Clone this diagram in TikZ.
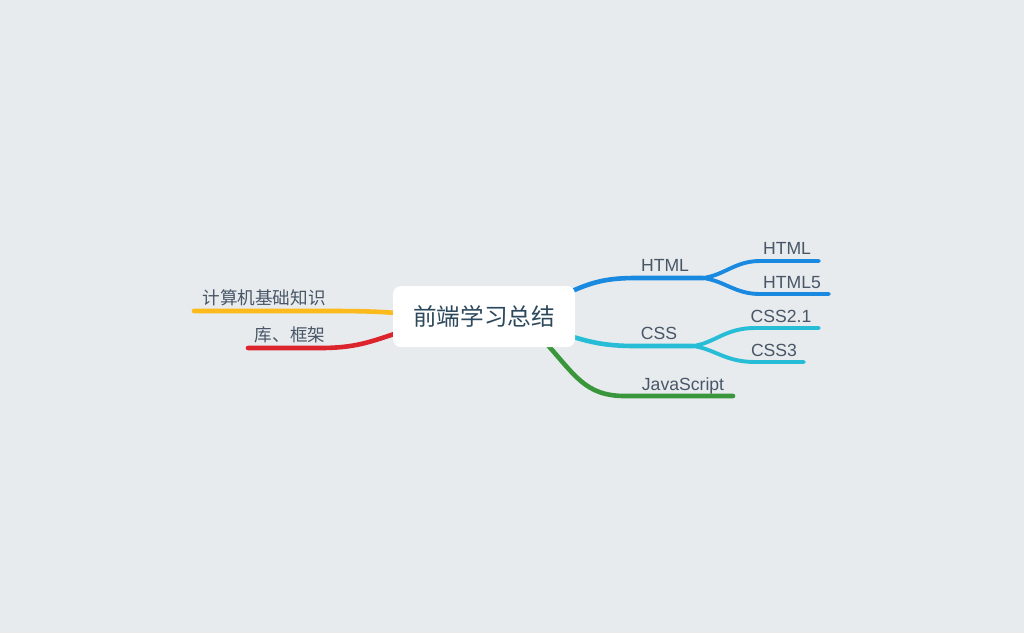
\documentclass[tikz,border=0pt]{standalone}
\usepackage{fontspec}
\setmainfont{Liberation Sans}
\newfontfamily\cjk{Noto Sans CJK SC}
\definecolor{bg}{RGB}{231,235,238}
\definecolor{cblue}{RGB}{26,137,224}
\definecolor{ccyan}{RGB}{40,189,214}
\definecolor{cgreen}{RGB}{58,150,58}
\definecolor{cred}{RGB}{219,36,44}
\definecolor{cyellow}{RGB}{252,186,28}
\definecolor{ctext}{RGB}{72,86,102}
\definecolor{ctitle}{RGB}{44,72,92}
\begin{document}
\begin{tikzpicture}[x=1pt,y=-1pt,
  branch/.style={line width=4.6pt,line cap=round},
  sub/.style={line width=3.9pt,line cap=round},
  lbl/.style={text=ctext,font=\fontsize{17.6}{18}\selectfont,inner sep=0pt,anchor=base},
  cjklbl/.style={text=ctext,font=\cjk\fontsize{17.6}{18}\selectfont,inner sep=0pt,anchor=base},
  rootbox/.style={fill=white,rounded corners=8pt,minimum width=182pt,minimum height=61pt,inner sep=0pt,text=ctitle,font=\cjk\fontsize{23.6}{24}\selectfont}]
\fill[bg] (0,0) rectangle (1024,633);
\useasboundingbox (0,0) rectangle (1024,633);

% coordinates
\coordinate (yEnd) at (194,311);
\coordinate (rEnd) at (248,348);
\coordinate (hFork) at (703,278);
\coordinate (hA) at (819,261);
\coordinate (hB) at (829,294);
\coordinate (cFork) at (693,346);
\coordinate (cA) at (819,328);
\coordinate (cB) at (804,362);
\coordinate (jEnd) at (733,396);

% left branches
\draw[branch,cyellow] (397,313) .. controls (370,311) and (350,311) .. (320,311) -- (yEnd);
\draw[branch,cred] (397,333) .. controls (370,342) and (355,348) .. (320,348) -- (rEnd);
% right branches
\draw[branch,cblue] (570,292) .. controls (590,283) and (605,278) .. (635,278) -- (hFork);
\draw[sub,cblue] (hFork) .. controls (725,275) and (735,261) .. (760,261) -- (hA);
\draw[sub,cblue] (hFork) .. controls (725,281) and (735,294) .. (760,294) -- (hB);
\draw[branch,ccyan] (570,336) .. controls (590,342) and (605,346) .. (635,346) -- (cFork);
\draw[sub,ccyan] (cFork) .. controls (715,343) and (725,328) .. (755,328) -- (cA);
\draw[sub,ccyan] (cFork) .. controls (715,349) and (725,362) .. (755,362) -- (cB);
\draw[branch,cgreen] (545,342) .. controls (575,375) and (585,396) .. (625,396) -- (jEnd);

\node[rootbox] (root) at (484,316.5) {前端学习总结};

% labels
\node[cjklbl] (l1) at (264,304) {计算机基础知识};
\node[cjklbl] (l2) at (290,341) {库、框架};
\node[lbl] (h) at (665,271) {HTML};
\node[lbl] (h1) at (787,254) {HTML};
\node[lbl] (h2) at (792,288) {HTML5};
\node[lbl] (c) at (659,339) {CSS};
\node[lbl] (c1) at (781,322) {CSS2.1};
\node[lbl] (c2) at (774,356) {CSS3};
\node[lbl] (j) at (683,390) {JavaScript};
\end{tikzpicture}
\end{document}
